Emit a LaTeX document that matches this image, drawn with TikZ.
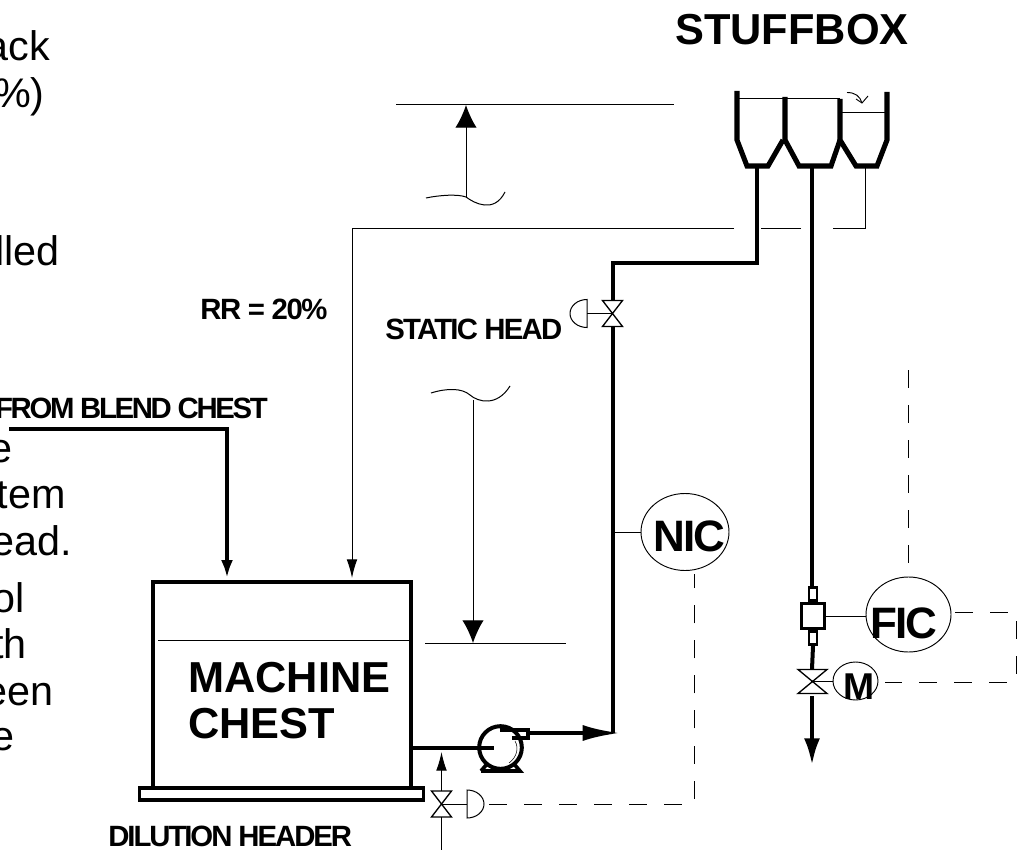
\documentclass[tikz,border=0pt]{standalone}
\usepackage{fontspec}
\setmainfont{Liberation Sans}
\usetikzlibrary{arrows.meta,positioning,shapes.geometric}

\begin{document}
\begin{tikzpicture}[x=0.75pt,y=-0.75pt,line join=miter,>={Latex[length=13.5pt,width=9pt]}]
	\tikzset{
		pipe/.style={draw,line width=3pt},
		wall/.style={draw,line width=3.8pt},
		thinline/.style={draw,line width=0.75pt},
		signal/.style={draw,line width=0.75pt,dash pattern=on 13.5pt off 12.8pt},
		instr/.style={draw,ellipse,line width=0.7pt,inner sep=0pt},
		bodytext/.style={font=\fontsize{31pt}{31pt}\selectfont,inner sep=0pt,anchor=base east},
		tag/.style={font=\fontsize{#1}{#1}\selectfont\bfseries,inner sep=0pt,anchor=base west},
		tight/.style n args={2}{font=\fontsize{#1}{#1}\selectfont\bfseries\addfontfeatures{LetterSpace=#2},inner sep=0pt,anchor=base west},
		smallhead/.style={-{Latex[length=14pt,width=8pt]}},
		bighead/.style={-{Latex[length=17pt,width=16pt]}},
		pipehead/.style={-{Latex[length=28pt,width=12pt]}},
		stockhead/.style={-{Latex[length=20pt,width=12pt]}}
	}
	\useasboundingbox (0,0) rectangle (1024,852);
	%Clipped text on the left
	\node[bodytext](t1) at (50,61){ack};
	\node[bodytext](t2) at (45,108){\%)};
	\node[bodytext](t3) at (60,266){lled};
	\node[bodytext](t4) at (13,462){e};
	\node[bodytext](t5) at (66,508){tem};
	\node[bodytext](t6) at (72,555){ead.};
	\node[bodytext](t7) at (25,612){ol};
	\node[bodytext](t8) at (27,658){th};
	\node[bodytext](t9) at (54,705){een};
	\node[bodytext](t10) at (15,750){e};
	%Labels
	\node[tag=32.5pt](stuffbox) at (675,45){STUFFBOX};
	\node[tight={22pt}{-5}](rr) at (200,319){RR = 20\%};
	\node[tight={22pt}{-6}](statichead) at (385,339){STATIC HEAD};
	\node[tight={22pt}{-8},anchor=base east](blend) at (268,418){FROM BLEND CHEST};
	\node[tight={22pt}{-7}](dilution) at (108,846){DILUTION HEADER};
	\node[tag=32.5pt](machine) at (188,692){MACHINE};
	\node[tag=32.5pt](chesttxt) at (188,738){CHEST};
	%Machine chest
	\coordinate (c1) at (153,788);
	\coordinate (c2) at (153,582);
	\coordinate (c3) at (411,582);
	\coordinate (c4) at (411,788);
	\draw[line width=3pt] (c1) -- (c2) -- (c3) -- (c4);
	\node[draw,line width=2.6pt,minimum width=213pt,minimum height=9pt,inner sep=0pt](base) at (281.5,794){};
	\coordinate (lvl1) at (158,640);
	\coordinate (lvl2) at (409,640);
	\draw[thinline] (lvl1) -- (lvl2);
	%Feed from blend chest
	\coordinate (feed1) at (9,429);
	\coordinate (feed2) at (227,429);
	\coordinate (feed3) at (227,578);
	\draw[pipe,->] (feed1) -- (feed2) -- (feed3);
	%Pump
	\coordinate (suct1) at (411,748);
	\coordinate (suct2) at (494,748);
	\draw[pipe] (suct1) -- (suct2);
	\node[draw,circle,line width=3pt,minimum size=32pt,inner sep=0pt](pump) at (500.5,747.5){};
	\draw[line width=0.4pt] (515,741) .. controls (519,748) and (517,757) .. (509,763);
	\draw[line width=2.6pt] (500,730) -- (528,730) -- (528,738) -- (512,738);
	\draw[line width=2.8pt] (481,771) -- (520,771) -- (514,764) (481,771) -- (487,764);
	\coordinate (pumpout) at (528,733);
	\coordinate (tee) at (620,733);
	\draw[pipe,pipehead] (pumpout) -- (tee);
	%Header valves
	\coordinate (rise1) at (613,733);
	\coordinate (rise2) at (613,327);
	\coordinate (rise3) at (613,300);
	\coordinate (rise4) at (613,263);
	\coordinate (rise5) at (757,263);
	\coordinate (rise6) at (757,166);
	\draw[pipe] (rise1) -- (rise2);
	\draw[pipe,line join=miter] (rise3) -- (rise4) -- (rise5) -- (rise6);
	\coordinate (v1c) at (612.5,313.5);
	\draw[thinline,line width=1pt] (602.5,300.5) -- (622.5,300.5) -- (602.5,326.5) -- (622.5,326.5) -- cycle;
	\coordinate (a1) at (587,313.5);
	\draw[thinline] (v1c) -- (a1);
	\draw[thinline] (587,299.5) arc (90:270:12.75pt and 10.5pt) -- cycle;
	\coordinate (v2c) at (441.5,804);
	\draw[thinline,line width=1pt] (431.5,791) -- (451.5,791) -- (431.5,817) -- (451.5,817) -- cycle;
	\coordinate (a2) at (467,804);
	\draw[thinline] (v2c) -- (a2);
	\draw[thinline] (467,790) arc (90:-90:12.75pt and 10.5pt) -- cycle;
	\coordinate (dil1) at (441.5,791);
	\coordinate (dil2) at (441.5,752);
	\coordinate (dil3) at (441.5,817);
	\coordinate (dil4) at (441.5,850);
	\draw[thinline,smallhead] (dil1) -- (dil2);
	\draw[thinline] (dil3) -- (dil4);
	%NIC loop
	\node[instr,minimum width=66pt,minimum height=57.75pt](nic) at (685,532){};
	\node[tight={33pt}{-4}](nictxt) at (653,551){NIC};
	\coordinate (nictap) at (613,532);
	\draw[thinline] (nictap) -- (nic.west);
	\coordinate (n1) at (694,574);
	\coordinate (n2) at (694,804);
	\coordinate (n3) at (489,804);
	\draw[signal] (n3) -- (n2) -- (n1);
	%Stuffbox
	\draw[wall] (737,91) -- (737,140) -- (747,166) -- (768,166) -- (783,140);
	\draw[wall] (785,97) -- (785,140) -- (799,166) -- (831,166) -- (840,140);
	\draw[wall] (840,99) -- (840,140) -- (856,166) -- (877,166) -- (887,140) -- (887,92);
	\coordinate (box1) at (738,99);
	\coordinate (box2) at (840,99);
	\coordinate (box3) at (840,113);
	\coordinate (box4) at (887,113);
	\draw[thinline] (box1) -- (box2);
	\draw[thinline] (box3) -- (box4);
	\draw[line width=0.7pt] (847,92.5) .. controls (855,92.5) and (860,96) .. (862,103);
	\draw[line width=0.7pt] (856,99) -- (862,103) -- (868,96);
	%Recycle line
	\coordinate (rec1) at (865,166);
	\coordinate (rec2) at (865,229);
	\coordinate (rec3) at (833,229);
	\coordinate (rec4) at (801,229);
	\coordinate (rec5) at (761,229);
	\coordinate (rec6) at (734,229);
	\coordinate (rec7) at (352,229);
	\coordinate (rec8) at (352,578);
	\draw[thinline] (rec1) -- (rec2) -- (rec3);
	\draw[thinline] (rec4) -- (rec5);
	\draw[thinline,smallhead] (rec6) -- (rec7) -- (rec8);
	%Static head marks
	\coordinate (top1) at (396,105);
	\coordinate (top2) at (674,105);
	\draw[thinline] (top1) -- (top2);
	\coordinate (up1) at (466,197);
	\coordinate (up2) at (466,105);
	\draw[thinline,bighead] (up1) -- (up2);
	\draw[thinline] (426,198) .. controls (440,195) and (458,194) .. (466,197) .. controls (474,203) and (494,214) .. (505,192);
	\draw[thinline] (431,393) .. controls (447,388) and (462,388) .. (470,395) .. controls (478,402) and (497,407) .. (510,386);
	\coordinate (dn1) at (473,400);
	\coordinate (dn2) at (473,643);
	\draw[thinline,bighead] (dn1) -- (dn2);
	\coordinate (low1) at (425,643);
	\coordinate (low2) at (566,643);
	\draw[thinline] (low1) -- (low2);
	%Stock line
	\coordinate (st1) at (812,166);
	\coordinate (st2) at (812,588);
	\draw[pipe] (st1) -- (st2);
	\node[draw,line width=2.6pt,minimum width=17pt,minimum height=18.5pt,inner sep=0pt](meter) at (813,616){};
	\node[draw,line width=2pt,minimum width=6pt,minimum height=10pt,inner sep=0pt,above=0pt of meter](neck1){};
	\node[draw,line width=2pt,minimum width=6pt,minimum height=10pt,inner sep=0pt,below=0pt of meter](neck2){};
	\coordinate (st3) at (812,669);
	\draw[pipe] (neck2.south) -- (st3);
	\draw[thinline,line width=1pt] (798,669.5) -- (827,669.5) -- (798,693.5) -- (827,693.5) -- cycle;
	\coordinate (st4) at (812,696);
	\coordinate (st5) at (812,765);
	\draw[pipe,stockhead] (st4) -- (st5);
	%FIC loop
	\node[instr,minimum width=63.75pt,minimum height=56.25pt](fic) at (908.5,614.5){};
	\node[tight={33pt}{-4}](fictxt) at (870,638){FIC};
	\node[instr,minimum width=33.75pt,minimum height=28.5pt](motor) at (855.5,681){};
	\node[tag=28pt](motortxt) at (843,699){M};
	\draw[thinline] (meter.east) -- (meter.east -| fic.west);
	\coordinate (v3c) at (812,681);
	\draw[thinline] (v3c) -- (motor.west);
	\coordinate (f1) at (908.5,370);
	\draw[signal] (f1) -- (fic.north);
	\coordinate (f2) at (1016,612);
	\coordinate (f3) at (1016,682);
	\coordinate (f4) at (955,612);
	\coordinate (f5) at (885,682);
	\draw[signal] (f4) -- (f2) -- (f3) -- (f5);
\end{tikzpicture}
\end{document}
